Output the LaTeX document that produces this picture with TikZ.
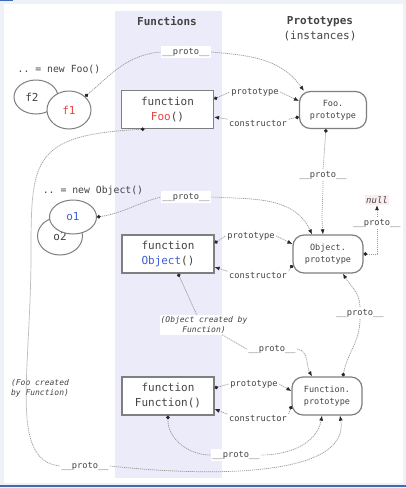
\documentclass[tikz,border=0pt]{standalone}
\usepackage{fontspec}
\setmonofont{DejaVu Sans Mono}
\usepackage{xcolor}
\usepackage{tikz}
\usetikzlibrary{shapes,arrows.meta,calc}

\definecolor{colBand}{HTML}{EBEBFA}
\definecolor{colFrame}{HTML}{EEF1F7}
\definecolor{colEdge}{HTML}{3D6CB3}
\definecolor{colText}{HTML}{444444}
\definecolor{colLine}{HTML}{9A9A9A}
\definecolor{colBorder}{HTML}{7F7F7F}
\definecolor{colRed}{HTML}{E5483D}
\definecolor{colBlue}{HTML}{3F5FD8}
\definecolor{colNull}{HTML}{FBEDED}

\tikzstyle{tsTitle} = [
    text=colText,
    font=\ttfamily\fontsize{11}{15}\selectfont,
    align=center
]
\tikzstyle{tsNew} = [
    text=colText,
    font=\ttfamily\fontsize{9.8}{12}\selectfont
]
\tikzstyle{tsFunc} = [
    rectangle,
    draw=colBorder,
    line width=1.2pt,
    fill=white,
    minimum width=92pt,
    minimum height=38pt,
    inner sep=0pt,
    align=center,
    text=colText,
    font=\ttfamily\fontsize{11}{15}\selectfont
]
\tikzstyle{tsProto} = [
    rectangle,
    rounded corners=11pt,
    draw=colBorder,
    line width=1.2pt,
    fill=white,
    minimum width=69pt,
    minimum height=38pt,
    inner sep=0pt,
    align=center,
    text=colText,
    font=\ttfamily\fontsize{8.5}{12}\selectfont
]
\tikzstyle{tsInst} = [
    ellipse,
    draw=colBorder,
    line width=1pt,
    fill=white,
    inner sep=0pt,
    text=colText,
    font=\ttfamily\fontsize{11}{13}\selectfont
]
\tikzstyle{tsLabel} = [
    fill=white,
    inner sep=1.5pt,
    text=colText,
    font=\ttfamily\fontsize{8.7}{10}\selectfont
]
\tikzstyle{tsNote} = [
    inner sep=1pt,
    text=colText,
    font=\ttfamily\itshape\fontsize{8}{10}\selectfont
]
\tikzstyle{tsLine} = [
    colLine,
    line width=0.7pt,
    dash pattern=on 1.2pt off 0.8pt
]
\tikzstyle{tsDotLine} = [
    tsLine,
    {Circle[length=3.6pt,color=black!85]}-
]
\tikzstyle{tsArrowLine} = [
    tsLine,
    -{Latex[length=5pt,width=4pt,color=black!85]}
]

\begin{document}
\begin{tikzpicture}[x=1pt, y=1pt]

        \useasboundingbox (0,0) rectangle (406,-488);

        % frame and the functions column
        \fill[colFrame] (0,0) rectangle (406,-488);
        \fill[white] (4,-4) rectangle (403,-483);
        \fill[colEdge] (0,-484.5) rectangle (406,-486.5);
        \fill[colEdge] (0,0) rectangle (13,-1.3);
        \fill[colBand] (115,-11) rectangle (222,-478);

        \node[tsTitle, font=\ttfamily\bfseries\fontsize{11}{15}\selectfont] (tFunctions) at (167,-21) {Functions};
        \node[tsTitle] (tPrototypes) at (320,-28.5) {\textbf{Prototypes}\\(instances)};

        % Foo row
        \node[tsNew] (newFoo) at (59,-69) {.. = new Foo()};
        \node[tsInst, minimum width=44pt, minimum height=34pt] (f2) at (36,-97) {f2\hspace*{8pt}\vspace*{0pt}};
        \node[tsInst, minimum width=44pt, minimum height=38pt, text=colRed] (f1) at (69,-110) {f1};
        \node[tsFunc] (foo) at (167.5,-109.5) {function\\\textcolor{colRed}{Foo}()};
        \node[tsProto, minimum width=67pt, minimum height=37pt] (fooProto) at (333,-110) {Foo.\\prototype};

        \node[tsLabel] (pA) at (186,-52) {\_\_proto\_\_};
        \node[tsLabel] (lp1) at (255,-92) {prototype};
        \node[tsLabel] (lc1) at (258,-124) {constructor};
        \node[tsLabel] (pB) at (323,-175) {\_\_proto\_\_};

        % Object row
        \node[tsNew] (newObject) at (93,-191) {.. = new Object()};
        \node[tsInst, minimum width=45pt, minimum height=38pt] (o2) at (60,-236) {\raisebox{-6pt}{o2}};
        \node[tsInst, minimum width=47pt, minimum height=34pt, text=colBlue] (o1) at (73,-217) {o1};
        \node[tsFunc] (obj) at (168,-254) {function\\\textcolor{colBlue}{Object}()};
        \node[tsProto, minimum width=70pt] (objProto) at (328,-254) {Object.\\prototype};

        \node[tsLabel] (pC) at (186,-197) {\_\_proto\_\_};
        \node[tsLabel] (lp2) at (251,-236) {prototype};
        \node[tsLabel] (lc2) at (258,-276) {constructor};
        \node[tsLabel, fill=colNull, font=\ttfamily\itshape\fontsize{9}{10}\selectfont] (null) at (377,-200) {null};
        \node[tsLabel] (pD) at (377,-223) {\_\_proto\_\_};

        % Function row
        \node[tsNote, fill=white, align=center] (nObj) at (204,-325) {(Object created by\\Function)};
        \node[tsLabel] (pF) at (272,-349) {\_\_proto\_\_};
        \node[tsLabel] (pG) at (360,-313) {\_\_proto\_\_};
        \node[tsFunc] (fn) at (168,-396) {function\\Function()};
        \node[tsProto, minimum width=70pt] (fnProto) at (327,-396) {Function.\\prototype};

        \node[tsLabel] (lp3) at (254,-384) {prototype};
        \node[tsLabel] (lc3) at (258,-419) {constructor};
        \node[tsLabel] (pH) at (236,-455) {\_\_proto\_\_};
        \node[tsLabel] (pI) at (85,-466) {\_\_proto\_\_};
        \node[tsNote, align=left] (nFoo) at (40,-388) {(Foo created\\by Function)};

        % f1 -> Foo.prototype
        \draw[tsDotLine] (f1.40) to[out=40,in=185] (pA.west);
        \draw[tsArrowLine] (pA.east) to[out=-5,in=125] ([xshift=5pt]fooProto.north west);

        % Foo <-> Foo.prototype
        \draw[tsDotLine] ([yshift=10.5pt]foo.east) -- (lp1.west);
        \draw[tsArrowLine] (lp1.east) -- ([yshift=9pt]fooProto.west);
        \draw[tsDotLine] ([yshift=-7pt]fooProto.west) -- (lc1.north east);
        \draw[tsArrowLine] (lc1.north west) -- ([yshift=-7.5pt]foo.east);

        % Foo -> Function.prototype
        \draw[tsDotLine] ([xshift=-23pt]foo.south) .. controls (30,-135) and (31,-160) .. (31,-260)
            .. controls (30,-380) and (10,-460) .. (pI.west);
        \draw[tsArrowLine] (pI.east) .. controls (220,-478) and (350,-475) .. ([xshift=13pt]fnProto.south);

        % Foo.prototype -> Object.prototype
        \draw[tsDotLine] ([xshift=-7pt]fooProto.south) to[out=-95,in=85] (pB.north);
        \draw[tsArrowLine] (pB.south) to[out=-90,in=95] ([xshift=-5pt]objProto.north);

        % o1 -> Object.prototype
        \draw[tsDotLine] (o1.east) to[out=8,in=195] (pC.west);
        \draw[tsArrowLine] (pC.east) to[out=-3,in=115] ([xshift=-16pt]objProto.north);

        % Object <-> Object.prototype
        \draw[tsDotLine] ([yshift=11pt]obj.east) -- (lp2.west);
        \draw[tsArrowLine] (lp2.east) -- ([yshift=10pt]objProto.west);
        \draw[tsDotLine] ([yshift=-11pt]objProto.west) -- (lc2.north east);
        \draw[tsArrowLine] (lc2.north west) -- ([yshift=-13pt]obj.east);

        % Object.prototype -> null
        \draw[tsDotLine] (objProto.east) -| (pD.south);
        \draw[tsArrowLine] (pD.north) -- (null.south);

        % Object -> Function.prototype
        \draw[tsDotLine] ([xshift=10pt]obj.south) to[out=-65,in=115] ([xshift=-7pt]nObj.north);
        \draw[tsLine] ([xshift=18pt]nObj.south) -- (pF.west);
        \draw[tsArrowLine] (pF.east) to[out=-10,in=120] ([xshift=-15pt]fnProto.north);

        % Function.prototype -> Object.prototype
        \draw[tsDotLine] ([xshift=16pt]fnProto.north) to[out=80,in=-90] (pG.south);
        \draw[tsArrowLine] (pG.north) to[out=90,in=-60] ([xshift=15pt]objProto.south);

        % Function <-> Function.prototype
        \draw[tsDotLine] ([yshift=8pt]fn.east) -- (lp3.west);
        \draw[tsArrowLine] (lp3.east) -- ([yshift=5pt]fnProto.west);
        \draw[tsDotLine] ([yshift=-10pt]fnProto.west) -- (lc3.north east);
        \draw[tsArrowLine] (lc3.north west) -- ([yshift=-13pt]fn.east);

        % Function -> Function.prototype
        \draw[tsDotLine] (fn.south) to[out=-92,in=180] (pH.west);
        \draw[tsArrowLine] (pH.east) to[out=0,in=-100] ([xshift=-5pt]fnProto.south);

\end{tikzpicture}
\end{document}
